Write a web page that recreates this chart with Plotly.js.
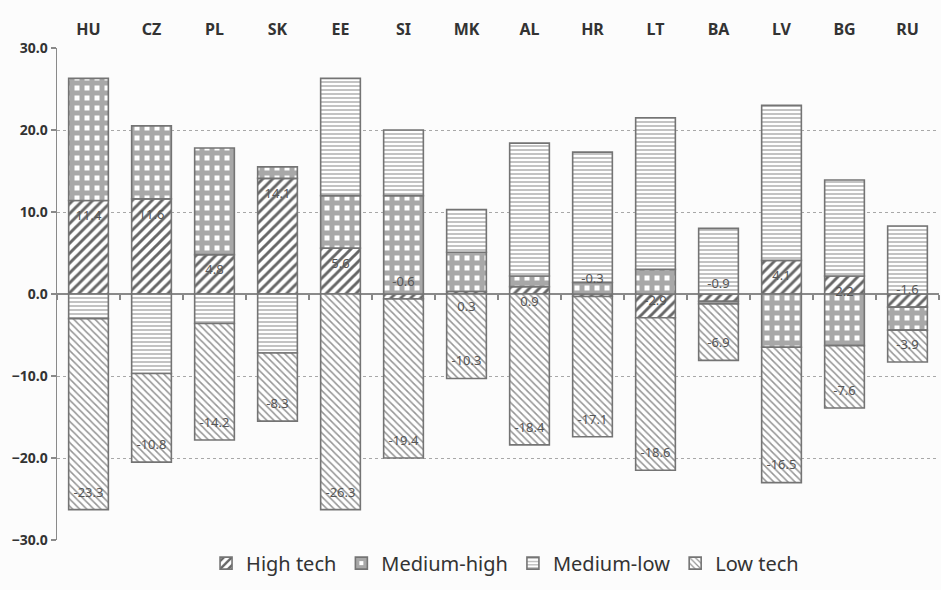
<!DOCTYPE html>
<html>
<head>
<meta charset="utf-8">
<script src="https://cdn.plot.ly/plotly-3.0.1.min.js"></script>
<style>html,body{margin:0;padding:0;background:#fcfcfc;}#chart{width:941px;height:590px;}</style>
</head>
<body>
<div id="chart"></div>
<script>
var countries = ['HU','CZ','PL','SK','EE','SI','MK','AL','HR','LT','BA','LV','BG','RU'];
var highTech   = [11.4, 11.6, 4.8, 14.1, 5.6, -0.6, 0.3, 0.9, -0.3, -2.9, -0.9, 4.1, 2.2, -1.6];
var mediumHigh = [14.9, 8.9, 13.0, 1.4, 6.4, 12.0, 4.8, 1.3, 1.4, 3.0, -0.3, -6.5, -6.3, -2.8];
var mediumLow  = [-3.0, -9.7, -3.6, -7.2, 14.3, 8.0, 5.2, 16.2, 15.9, 18.5, 8.0, 18.9, 11.7, 8.3];
var lowTech    = [-23.3, -10.8, -14.2, -8.3, -26.3, -19.4, -10.3, -18.4, -17.1, -18.6, -6.9, -16.5, -7.6, -3.9];
var seriesNames = ['High tech', 'Medium-high', 'Medium-low', 'Low tech'];
var yTicks = [-30, -20, -10, 0, 10, 20, 30];

var outline = {color: '#747474', width: 1.6};
function barTrace(name, vals, pattern) {
  return {
    type: 'bar', name: name, x: countries, y: vals,
    marker: {color: '#ffffff', line: outline, pattern: pattern},
    hoverinfo: 'skip'
  };
}

var traces = [
  barTrace(seriesNames[0], highTech,   {shape: '/', fgcolor: '#666666', bgcolor: '#ffffff', size: 7, solidity: 0.42}),
  barTrace(seriesNames[1], mediumHigh, {shape: '+', fgcolor: '#a8a8a8', bgcolor: '#ffffff', size: 10, solidity: 0.75}),
  barTrace(seriesNames[2], mediumLow,  {shape: '-', fgcolor: '#b0b0b0', bgcolor: '#ffffff', size: 4, solidity: 0.38}),
  barTrace(seriesNames[3], lowTech,    {shape: '\\', fgcolor: '#959595', bgcolor: '#ffffff', size: 5, solidity: 0.3})
];

// label positions derived from the stacked data (inside the end of each segment)
var off = 2.0;
var htLabelY = highTech.map(function(v){ return v >= 0 ? v - off : v + off; });
var ltLabelY = lowTech.map(function(v, i){
  var all = [highTech[i], mediumHigh[i], mediumLow[i], lowTech[i]];
  var end = 0;
  all.forEach(function(a){ if ((v < 0 && a < 0) || (v >= 0 && a >= 0)) end += a; });
  return v < 0 ? end + off : end - off;
});
function fmt(v){ return v.toFixed(1); }
var labelFont = {family: 'Noto Sans, Open Sans, sans-serif', size: 13, color: '#555555'};
traces.push({type: 'scatter', mode: 'text', x: countries, y: htLabelY, text: highTech.map(fmt),
  textfont: labelFont, showlegend: false, hoverinfo: 'skip', cliponaxis: false});
traces.push({type: 'scatter', mode: 'text', x: countries, y: ltLabelY, text: lowTech.map(fmt),
  textfont: labelFont, showlegend: false, hoverinfo: 'skip', cliponaxis: false});
// empty trace so the overlaying axis (tick marks along the zero line) is drawn
traces.push({type: 'scatter', mode: 'markers', x: [], y: [], xaxis: 'x2', yaxis: 'y',
  showlegend: false, hoverinfo: 'skip'});

var boundaries = countries.map(function(c, i){ return i - 0.5; }).concat([countries.length - 0.5]);

var layout = {
  width: 941, height: 590,
  margin: {l: 57, r: 2, t: 48, b: 50},
  paper_bgcolor: '#fcfcfc', plot_bgcolor: '#fcfcfc',
  barmode: 'relative', bargap: 0.37,
  font: {family: 'Noto Sans, Open Sans, sans-serif', color: '#333333'},
  xaxis: {
    type: 'category', side: 'top', range: [-0.5, countries.length - 0.5],
    showgrid: false, showline: false, zeroline: false, ticks: '',
    tickfont: {size: 16, color: '#333333', weight: 'bold'},
    ticklabelstandoff: 9
  },
  xaxis2: {
    overlaying: 'x', anchor: 'free', position: 0.5, type: 'linear', side: 'bottom',
    range: [-0.5, countries.length - 0.5], tickmode: 'array', tickvals: boundaries,
    ticks: 'outside', ticklen: 5, tickwidth: 1.3, tickcolor: '#888888',
    showticklabels: false, showgrid: false, showline: false, zeroline: false
  },
  yaxis: {
    range: [-30, 30], tickmode: 'array', tickvals: yTicks, tickformat: '.1f',
    showgrid: true, gridcolor: '#a8a8a8', griddash: 'dot', gridwidth: 1,
    zeroline: true, zerolinecolor: '#8a8a8a', zerolinewidth: 1.6,
    showline: true, linecolor: '#8a8a8a', linewidth: 1.5,
    ticks: 'outside', ticklen: 5, tickcolor: '#8a8a8a', tickwidth: 1.2,
    tickfont: {size: 14, color: '#333333', weight: 'bold'}
  },
  legend: {
    orientation: 'h', x: 0.508, xanchor: 'center', y: -0.047, yanchor: 'middle',
    font: {size: 20, color: '#333333'}, bgcolor: 'rgba(0,0,0,0)', itemwidth: 30
  },
  showlegend: true
};

Plotly.newPlot('chart', traces, layout, {displayModeBar: false, staticPlot: true});
</script>
</body>
</html>
